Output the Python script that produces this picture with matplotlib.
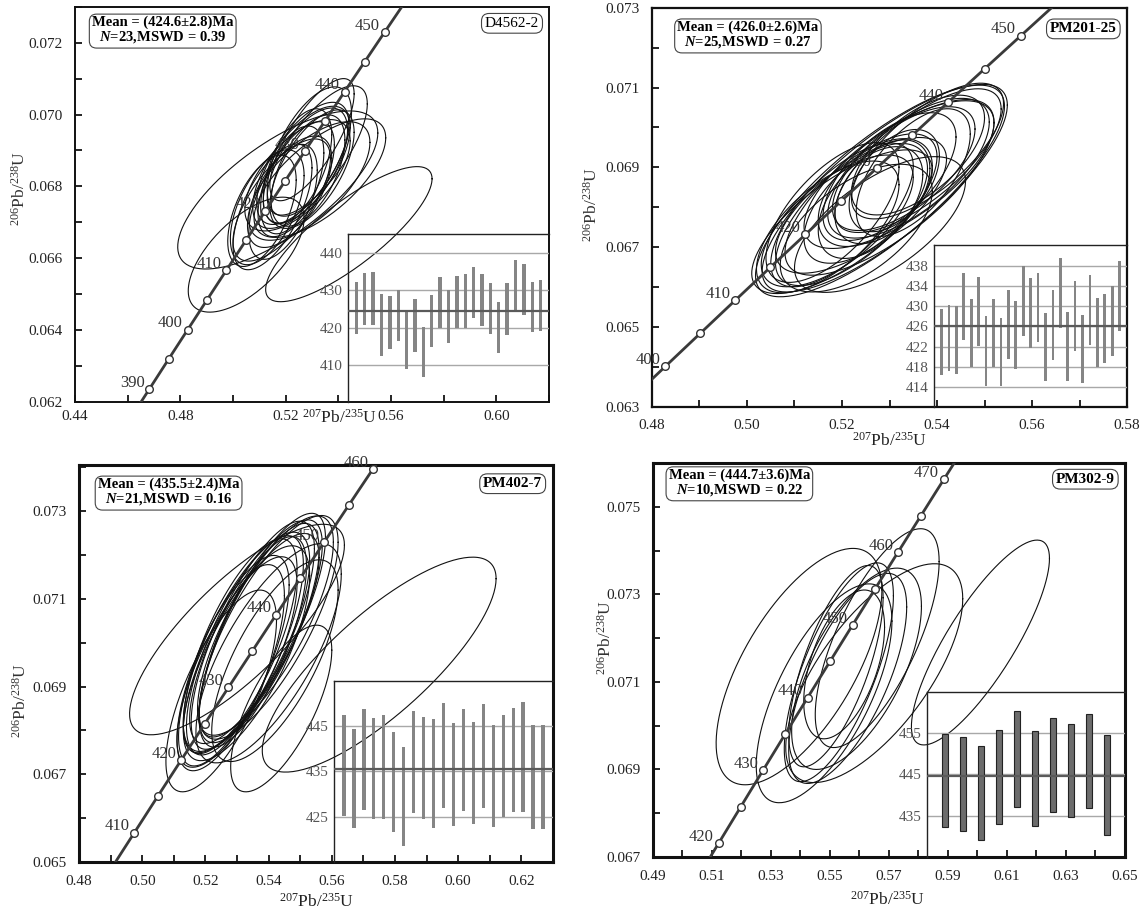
import numpy as np
import matplotlib.pyplot as plt
from matplotlib.ticker import FormatStrFormatter

plt.rcParams['font.family'] = 'Liberation Serif'
plt.rcParams['mathtext.fontset'] = 'custom'
plt.rcParams['mathtext.rm'] = 'Liberation Serif'
plt.rcParams['mathtext.it'] = 'Liberation Serif:italic:bold'
plt.rcParams['mathtext.bf'] = 'Liberation Serif:bold'

# decay constants, per Ma
L238 = 1.55125e-4
L235 = 9.8485e-4

# ---------------- D4562-2 ----------------
p1_ell = [  # cx, cy, half x-extent, half y-extent, rho
    (0.5240, 0.06820, 0.0145, 0.00160, 0.60),
    (0.5275, 0.06858, 0.0160, 0.00160, 0.62),
    (0.5265, 0.06864, 0.0175, 0.00170, 0.65),
    (0.5150, 0.06743, 0.0150, 0.00175, 0.62),
    (0.5190, 0.06757, 0.0130, 0.00160, 0.55),
    (0.5215, 0.06785, 0.0160, 0.00155, 0.60),
    (0.5440, 0.06667, 0.0316, 0.00188, 0.82),
    (0.5130, 0.06742, 0.0140, 0.00160, 0.55),
    (0.5050, 0.06610, 0.0220, 0.00160, 0.63),
    (0.5185, 0.06762, 0.0185, 0.00170, 0.68),
    (0.5285, 0.06844, 0.0140, 0.00155, 0.55),
    (0.5170, 0.06790, 0.0380, 0.00220, 0.72),
    (0.5300, 0.06848, 0.0160, 0.00165, 0.62),
    (0.5260, 0.06853, 0.0185, 0.00170, 0.65),
    (0.5320, 0.06900, 0.0190, 0.00180, 0.72),
    (0.5245, 0.06856, 0.0130, 0.00160, 0.55),
    (0.5225, 0.06818, 0.0120, 0.00150, 0.50),
    (0.5110, 0.06732, 0.0130, 0.00155, 0.55),
    (0.5290, 0.06815, 0.0230, 0.00165, 0.65),
    (0.5300, 0.06930, 0.0160, 0.00170, 0.75),
    (0.5290, 0.06897, 0.0160, 0.00180, 0.60),
    (0.5330, 0.06823, 0.0250, 0.00165, 0.68),
    (0.5245, 0.06831, 0.0200, 0.00155, 0.62),
]
p1_lo = [418.2, 420.6, 420.8, 412.4, 414.3, 416.3, 408.8, 413.4, 406.7, 414.7, 420.0, 415.8,
         420.0, 420.0, 422.5, 420.5, 418.4, 413.1, 418.1, 424.8, 423.3, 418.8, 419.2]
p1_hi = [432.4, 434.6, 435.1, 429.0, 428.6, 430.1, 424.1, 427.7, 420.3, 428.8, 433.6, 430.1,
         434.0, 434.5, 436.3, 434.5, 431.9, 426.8, 431.9, 438.1, 437.0, 432.4, 432.8]
p1_marks = [390, 395, 400, 405, 410, 415, 420, 425, 430, 435, 440, 445, 450]
p1_ages = [390, 400, 410, 420, 430, 440, 450]
p1_xticks = [0.44, 0.48, 0.52, 0.56, 0.60]
p1_yticks = [0.062, 0.064, 0.066, 0.068, 0.070, 0.072]
p1_inset_ticks = [410, 420, 430, 440]

# ---------------- PM201-25 ----------------
p2_ell = [
    (0.5200, 0.06781, 0.0150, 0.00180, 0.68),
    (0.5230, 0.06794, 0.0170, 0.00190, 0.70),
    (0.5180, 0.06787, 0.0140, 0.00175, 0.65),
    (0.5340, 0.06898, 0.0170, 0.00175, 0.66),
    (0.5250, 0.06810, 0.0130, 0.00150, 0.58),
    (0.5320, 0.06882, 0.0200, 0.00185, 0.70),
    (0.5170, 0.06751, 0.0150, 0.00165, 0.64),
    (0.5260, 0.06812, 0.0110, 0.00140, 0.50),
    (0.5230, 0.06748, 0.0160, 0.00160, 0.58),
    (0.5285, 0.06839, 0.0100, 0.00130, 0.45),
    (0.5240, 0.06805, 0.0180, 0.00170, 0.68),
    (0.5360, 0.06917, 0.0175, 0.00180, 0.72),
    (0.5300, 0.06877, 0.0140, 0.00160, 0.62),
    (0.5330, 0.06897, 0.0150, 0.00155, 0.64),
    (0.5200, 0.06764, 0.0190, 0.00180, 0.72),
    (0.5270, 0.06837, 0.0120, 0.00135, 0.50),
    (0.5380, 0.06941, 0.0160, 0.00170, 0.70),
    (0.5190, 0.06766, 0.0160, 0.00165, 0.66),
    (0.5310, 0.06867, 0.0095, 0.00128, 0.48),
    (0.5280, 0.06757, 0.0180, 0.00170, 0.64),
    (0.5350, 0.06887, 0.0120, 0.00160, 0.60),
    (0.5280, 0.06841, 0.0262, 0.00265, 0.80),
    (0.5290, 0.06848, 0.0258, 0.00260, 0.80),
    (0.5300, 0.06850, 0.0220, 0.00220, 0.74),
    (0.5360, 0.06931, 0.0140, 0.00150, 0.62),
]
p2_lo = [416.3, 417.1, 416.6, 423.3, 418.0, 422.1, 414.2, 418.0, 414.2, 419.5, 417.6, 424.1, 421.8,
         423.0, 415.1, 419.4, 425.6, 415.2, 421.1, 414.7, 422.4, 418.0, 418.8, 420.1, 425.0]
p2_hi = [429.5, 430.3, 430.0, 436.7, 431.4, 435.8, 428.0, 431.5, 427.6, 433.3, 431.1, 438.1, 435.6,
         436.7, 428.7, 433.2, 439.5, 428.9, 435.0, 428.2, 436.2, 431.7, 432.5, 434.0, 438.9]
p2_marks = [400, 405, 410, 415, 420, 425, 430, 435, 440, 445, 450]
p2_ages = [400, 410, 420, 430, 440, 450]
p2_xticks = [0.48, 0.50, 0.52, 0.54, 0.56, 0.58]
p2_yticks = [0.063, 0.065, 0.067, 0.069, 0.071, 0.073]
p2_inset_ticks = [414, 418, 422, 426, 430, 434, 438]

# ---------------- PM402-7 ----------------
p3_ell = [
    (0.5330, 0.07002, 0.0200, 0.00250, 0.74),
    (0.5300, 0.06956, 0.0190, 0.00240, 0.74),
    (0.5360, 0.07025, 0.0210, 0.00255, 0.78),
    (0.5310, 0.06992, 0.0180, 0.00245, 0.72),
    (0.5345, 0.06999, 0.0215, 0.00250, 0.78),
    (0.5280, 0.06943, 0.0170, 0.00235, 0.70),
    (0.5250, 0.06890, 0.0175, 0.00230, 0.70),
    (0.5350, 0.07017, 0.0195, 0.00260, 0.76),
    (0.5325, 0.06994, 0.0185, 0.00250, 0.74),
    (0.5400, 0.06976, 0.0230, 0.00250, 0.72),
    (0.5380, 0.07040, 0.0200, 0.00255, 0.78),
    (0.5300, 0.07030, 0.0340, 0.00240, 0.80),
    (0.5370, 0.07022, 0.0190, 0.00250, 0.76),
    (0.5330, 0.06976, 0.0200, 0.00245, 0.72),
    (0.5390, 0.07039, 0.0215, 0.00250, 0.76),
    (0.5440, 0.06850, 0.0160, 0.00190, 0.70),
    (0.5350, 0.07002, 0.0170, 0.00240, 0.72),
    (0.5750, 0.06950, 0.0370, 0.00245, 0.80),
    (0.5400, 0.07035, 0.0220, 0.00255, 0.76),
    (0.5290, 0.06959, 0.0175, 0.00240, 0.72),
    (0.5420, 0.06959, 0.0200, 0.00230, 0.70),
]
p3_lo = [425.1, 422.5, 426.5, 424.6, 424.6, 421.6, 418.5, 425.9, 424.5, 422.6, 426.9,
         423.0, 426.2, 423.3, 427.0, 422.8, 425.0, 426.1, 426.1, 422.2, 422.2]
p3_hi = [447.5, 444.5, 448.8, 446.8, 447.5, 443.8, 440.4, 448.4, 447.0, 446.7, 450.2,
         445.7, 448.8, 446.0, 449.9, 445.3, 447.5, 449.1, 450.4, 445.2, 445.2]
p3_marks = [410, 415, 420, 425, 430, 435, 440, 445, 450, 455, 460]
p3_ages = [410, 420, 430, 440, 450, 460]
p3_xticks = [0.48, 0.50, 0.52, 0.54, 0.56, 0.58, 0.60, 0.62]
p3_yticks = [0.065, 0.067, 0.069, 0.071, 0.073]
p3_inset_ticks = [425, 435, 445]

# ---------------- PM302-9 ----------------
p4_ell = [
    (0.5530, 0.07122, 0.0185, 0.00250, 0.70),
    (0.5560, 0.07108, 0.0200, 0.00240, 0.68),
    (0.5480, 0.07074, 0.0230, 0.00250, 0.66),
    (0.5520, 0.07136, 0.0160, 0.00230, 0.68),
    (0.5660, 0.07200, 0.0210, 0.00250, 0.70),
    (0.5590, 0.07130, 0.0220, 0.00230, 0.62),
    (0.5395, 0.07135, 0.0281, 0.00270, 0.65),
    (0.5548, 0.07140, 0.0137, 0.00170, 0.50),
    (0.6010, 0.07190, 0.0234, 0.00234, 0.82),
    (0.5650, 0.07120, 0.0300, 0.00250, 0.68),
]
p4_lo = [432.2, 431.3, 429.2, 433.0, 437.2, 432.4, 435.8, 434.6, 436.8, 430.4]
p4_hi = [454.8, 454.0, 452.0, 455.7, 460.4, 455.5, 458.6, 457.2, 459.6, 454.6]
p4_marks = [420, 425, 430, 435, 440, 445, 450, 455, 460, 465, 470]
p4_ages = [420, 430, 440, 450, 460, 470]
p4_xticks = [0.49, 0.51, 0.53, 0.55, 0.57, 0.59, 0.61, 0.63, 0.65]
p4_yticks = [0.067, 0.069, 0.071, 0.073, 0.075]
p4_inset_ticks = [435, 445, 455]

xlab = r'$^{207}$Pb/$^{235}$U'
ylab = r'$^{206}$Pb/$^{238}$U'


def concordia(t):
    t = np.asarray(t, dtype=float)
    return np.exp(L235 * t) - 1, np.exp(L238 * t) - 1


def draw_panel(rect, xlim, ylim, xticks, xminor, yticks, yminor, ell, marks, ages,
               mean_txt, n_txt, sample, sample_bold, frame_lw, mean_pos, sample_pos,
               xlab_pos, ylab_pos, xpad):
    ax = fig.add_axes(rect)
    ax.set_xlim(xlim)
    ax.set_ylim(ylim)

    # error ellipses
    th = np.linspace(0, 2 * np.pi, 200)
    for cx, cy, sx, sy, r in ell:
        ex = cx + sx * np.cos(th)
        ey = cy + sy * (r * np.cos(th) + np.sqrt(1 - r * r) * np.sin(th))
        ax.plot(ex, ey, color='#111111', lw=0.8, zorder=2)

    # concordia
    cx_, cy_ = concordia(np.linspace(300, 520, 400))
    ax.plot(cx_, cy_, color='#3a3a3a', lw=2.0, zorder=3)
    mx, my = concordia(marks)
    ax.plot(mx, my, 'o', ms=5.5, mfc='white', mec='#333333', mew=1.0, zorder=4)
    for a in ages:
        px, py = concordia(a)
        ax.annotate(str(a), (px, py), xytext=(-3.5, 4.5), textcoords='offset points',
                    ha='right', va='center', fontsize=12, color='#333333', zorder=5)

    ax.set_xticks(xticks)
    ax.set_xticks(xminor, minor=True)
    ax.set_yticks(yticks)
    ax.set_yticks(yminor, minor=True)
    ax.xaxis.set_major_formatter(FormatStrFormatter('%.2f'))
    ax.yaxis.set_major_formatter(FormatStrFormatter('%.3f'))
    ax.tick_params(which='both', direction='in', length=5, width=1.2,
                   top=False, right=False, labelsize=11, labelcolor='#222222')
    ax.tick_params(axis='y', pad=9)
    ax.tick_params(axis='x', pad=xpad)
    for sp in ax.spines.values():
        sp.set_linewidth(frame_lw)
        sp.set_color('#111111')

    ax.set_xlabel(xlab, fontsize=12.5, color='#222222')
    ax.set_ylabel(ylab, fontsize=12.5, color='#333333')
    ax.xaxis.set_label_coords(*xlab_pos)
    ax.xaxis.label.set_va('center')
    ax.yaxis.set_label_coords(*ylab_pos)
    ax.yaxis.label.set_va('center')

    ax.text(mean_pos[0], mean_pos[1], mean_txt + '\n' + n_txt, transform=ax.transAxes,
            ha='center', va='center', multialignment='center', fontsize=10.5,
            fontweight='bold', linespacing=1.05, zorder=6,
            bbox=dict(boxstyle='round,pad=0.18,rounding_size=0.5', fc='white',
                      ec='#444444', lw=0.8))
    ax.text(sample_pos[0], sample_pos[1], sample, transform=ax.transAxes,
            ha='center', va='center', fontsize=11,
            fontweight='bold' if sample_bold else 'normal', zorder=6,
            bbox=dict(boxstyle='round,pad=0.22,rounding_size=0.5', fc='white',
                      ec='#444444', lw=0.8))
    return ax


def draw_inset(ax, box, lo, hi, mean, ticks, ylim, bw, dark=False):
    ins = ax.inset_axes(box)
    ins.set_facecolor('none')
    n = len(lo)
    xs = np.arange(1, n + 1)
    ins.set_xlim(0, n + 1)
    ins.set_ylim(ylim)
    for g in ticks:
        ins.axhline(g, color='#a8a8a8', lw=1.0, zorder=1)
    lo = np.array(lo)
    hi = np.array(hi)
    if dark:
        ins.bar(xs, hi - lo, bottom=lo, width=bw, color='#6c6c6c',
                edgecolor='#222222', lw=0.8, zorder=2)
    else:
        ins.bar(xs, hi - lo, bottom=lo, width=bw, color='#858585', zorder=2)
    ins.axhline(mean, color='#5a5a5a', lw=1.6, zorder=3)
    ins.set_xticks([])
    ins.set_yticks(ticks)
    ins.tick_params(axis='y', length=0, labelsize=11, labelcolor='#555555', pad=4)
    ins.spines['right'].set_visible(False)
    ins.spines['bottom'].set_visible(False)
    ins.spines['left'].set_linewidth(1.0)
    ins.spines['top'].set_linewidth(1.0)
    ins.spines['left'].set_color('#222222')
    ins.spines['top'].set_color('#222222')
    return ins


fig = plt.figure(figsize=(11.42, 9.09), dpi=100)

ax1 = draw_panel([0.0657, 0.5578, 0.4150, 0.4348], (0.44, 0.62), (0.062, 0.073),
                 p1_xticks, [0.46, 0.50, 0.54, 0.58, 0.62],
                 p1_yticks, [0.063, 0.065, 0.067, 0.069, 0.071, 0.073],
                 p1_ell, p1_marks, p1_ages,
                 'Mean = (424.6±2.8)Ma', '$N$=23,MSWD = 0.39', 'D4562-2', False, 1.4,
                 (0.185, 0.94), (0.922, 0.958), (0.557, -0.04), (-0.116, 0.54), 6)
draw_inset(ax1, [0.576, 0, 0.424, 0.425], p1_lo, p1_hi, 424.6, p1_inset_ticks,
           (400, 445.2), 0.4)

ax2 = draw_panel([0.5709, 0.5523, 0.4160, 0.4392], (0.48, 0.58), (0.063, 0.073),
                 p2_xticks, [0.49, 0.51, 0.53, 0.55, 0.57],
                 p2_yticks, [0.064, 0.066, 0.068, 0.070, 0.072],
                 p2_ell, p2_marks, p2_ages,
                 'Mean = (426.0±2.6)Ma', '$N$=25,MSWD = 0.27', 'PM201-25', True, 1.6,
                 (0.202, 0.931), (0.908, 0.947), (0.499, -0.085), (-0.126, 0.506), 9)
draw_inset(ax2, [0.594, 0, 0.406, 0.406], p2_lo, p2_hi, 426.0, p2_inset_ticks,
           (410, 442.2), 0.36)

ax3 = draw_panel([0.0692, 0.0517, 0.4150, 0.4367], (0.48, 0.63), (0.065, 0.07405),
                 p3_xticks, [0.49, 0.51, 0.53, 0.55, 0.57, 0.59, 0.61, 0.63],
                 p3_yticks, [0.066, 0.068, 0.070, 0.072, 0.074],
                 p3_ell, p3_marks, p3_ages,
                 'Mean = (435.5±2.4)Ma', '$N$=21,MSWD = 0.16', 'PM402-7', True, 2.2,
                 (0.189, 0.931), (0.915, 0.953), (0.5, -0.10), (-0.124, 0.408), 9)
draw_inset(ax3, [0.538, 0, 0.462, 0.456], p3_lo, p3_hi, 435.5, p3_inset_ticks,
           (415, 455), 0.33)

ax4 = draw_panel([0.5718, 0.0572, 0.4133, 0.4334], (0.49, 0.65), (0.067, 0.076),
                 p4_xticks, [0.50, 0.52, 0.54, 0.56, 0.58, 0.60, 0.62, 0.64],
                 p4_yticks, [0.068, 0.070, 0.072, 0.074, 0.076],
                 p4_ell, p4_marks, p4_ages,
                 'Mean = (444.7±3.6)Ma', '$N$=10,MSWD = 0.22', 'PM302-9', True, 2.2,
                 (0.183, 0.949), (0.916, 0.959), (0.497, -0.109), (-0.10, 0.558), 9)
draw_inset(ax4, [0.58, 0, 0.42, 0.419], p4_lo, p4_hi, 444.7, p4_inset_ticks,
           (425, 465), 0.32, dark=True)

fig.savefig('out.png', dpi=100)
